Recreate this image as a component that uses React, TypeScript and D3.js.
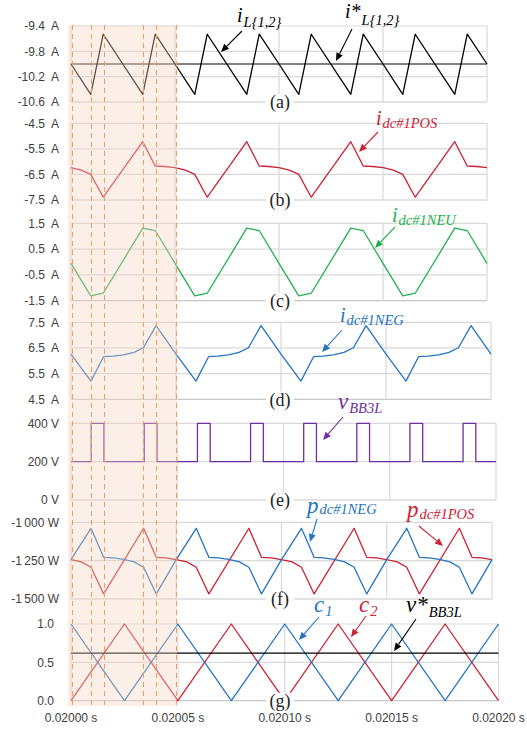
import React, { useEffect, useRef } from 'react';
import * as d3 from 'd3';

// time axis in microseconds after t = 0.02000 s
const tSwitch = [0, 9.5, 15.5, 34.5, 40.5, 50, 59.5, 65.5, 84.5, 90.5, 100, 109.5, 115.5, 134.5, 140.5, 150, 159.5, 165.5, 184.5, 190.5, 200];
const tPos = [0, 5, 9.5, 15.5, 34.5, 40.5, 45, 50, 55, 59.5, 65.5, 84.5, 90.5, 95, 100, 105, 109.5, 115.5, 134.5, 140.5, 145, 150, 155, 159.5, 165.5, 184.5, 190.5, 195, 200];
const tNeg = [0, 9.5, 15.5, 20, 25, 30, 34.5, 40.5, 50, 59.5, 65.5, 70, 75, 80, 84.5, 90.5, 100, 109.5, 115.5, 120, 125, 130, 134.5, 140.5, 150, 159.5, 165.5, 170, 175, 180, 184.5, 190.5, 200];
const tCarrier = [0, 25, 50, 75, 100, 125, 150, 175, 200];
const tSpan = [0, 200];

// (a) inductor current and its reference
const iL = [-10.0, -10.48, -9.53, -10.48, -9.53, -10.0, -10.48, -9.53, -10.48, -9.53, -10.0, -10.48, -9.53, -10.48, -9.53, -10.0, -10.48, -9.53, -10.48, -9.53, -10.0];
const iLRef = [-10.0, -10.0];
// (b) dc current, positive rail
const iPos = [-6.23, -6.33, -6.5, -7.39, -5.22, -6.17, -6.19, -6.23, -6.33, -6.5, -7.39, -5.22, -6.17, -6.19, -6.23, -6.33, -6.5, -7.39, -5.22, -6.17, -6.19, -6.23, -6.33, -6.5, -7.39, -5.22, -6.17, -6.19, -6.23];
// (c) dc current, neutral
const iNeu = [-0.05, -1.31, -1.21, 1.31, 1.22, -0.05, -1.31, -1.21, 1.31, 1.22, -0.05, -1.31, -1.21, 1.31, 1.22, -0.05, -1.31, -1.21, 1.31, 1.22, -0.05];
// (d) dc current, negative rail
const iNeg = [6.26, 5.21, 6.16, 6.18, 6.23, 6.33, 6.51, 7.37, 6.26, 5.21, 6.16, 6.18, 6.23, 6.33, 6.51, 7.37, 6.26, 5.21, 6.16, 6.18, 6.23, 6.33, 6.51, 7.37, 6.26, 5.21, 6.16, 6.18, 6.23, 6.33, 6.51, 7.37, 6.26];
// (e) leg voltage
const vBB3L = [200, 400, 200, 400, 200, 200, 400, 200, 400, 200, 200, 400, 200, 400, 200, 200, 400, 200, 400, 200, 200];
// (f) dc powers
const pNeg = [-1243, -1039, -1228, -1232, -1242, -1258, -1293, -1467, -1243, -1039, -1228, -1232, -1242, -1258, -1293, -1467, -1243, -1039, -1228, -1232, -1242, -1258, -1293, -1467, -1243, -1039, -1228, -1232, -1242, -1258, -1293, -1467, -1243];
const pPos = [-1243, -1258, -1293, -1467, -1039, -1228, -1232, -1243, -1258, -1293, -1467, -1039, -1228, -1232, -1243, -1258, -1293, -1467, -1039, -1228, -1232, -1243, -1258, -1293, -1467, -1039, -1228, -1232, -1243];
// (g) carriers and modulating signal
const c1 = [1, 0, 1, 0, 1, 0, 1, 0, 1];
const c2 = [0, 1, 0, 1, 0, 1, 0, 1, 0];
const vStar = [0.62, 0.62];

const xTicks = [0, 50, 100, 150, 200];
const xTickLabels = ['0.02000 s', '0.02005 s', '0.02010 s', '0.02015 s', '0.02020 s'];
const switchMarks = [0, 9.5, 15.5, 34.5, 40.5, 50];

const RED = '#cc2233';
const GREEN = '#22b04e';
const BLUE = '#2474c0';
const PURPLE = '#7030a0';

const panels = [
  { id: 'a', top: 26, bottom: 102, right: 487, domain: [-10.6, -9.4], ticks: [-10.6, -10.2, -9.8, -9.4], labels: ['-10.6  A', '-10.2  A', '-9.8  A', '-9.4  A'],
    series: [{ t: tSpan, v: iLRef, color: '#808080', w: 1.8 }, { t: tSwitch, v: iL, color: '#000000' }] },
  { id: 'b', top: 123.3, bottom: 200, right: 487, domain: [-7.5, -4.5], ticks: [-7.5, -6.5, -5.5, -4.5], labels: ['-7.5  A', '-6.5  A', '-5.5  A', '-4.5  A'],
    series: [{ t: tPos, v: iPos, color: RED }] },
  { id: 'c', top: 223.3, bottom: 300.7, right: 487, domain: [-1.5, 1.5], ticks: [-1.5, -0.5, 0.5, 1.5], labels: ['-1.5  A', '-0.5  A', '0.5  A', '1.5  A'],
    series: [{ t: tSwitch, v: iNeu, color: GREEN }] },
  { id: 'd', top: 322.3, bottom: 399.3, right: 491, domain: [4.5, 7.5], ticks: [4.5, 5.5, 6.5, 7.5], labels: ['4.5  A', '5.5  A', '6.5  A', '7.5  A'],
    series: [{ t: tNeg, v: iNeg, color: BLUE }] },
  { id: 'e', top: 423.3, bottom: 500, right: 496, domain: [0, 400], ticks: [0, 200, 400], labels: ['0 V', '200 V', '400 V'],
    series: [{ t: tSwitch, v: vBB3L, color: PURPLE, step: true }] },
  { id: 'f', top: 522.3, bottom: 599, right: 492, domain: [-1500, -1000], ticks: [-1500, -1250, -1000], labels: ['-1\u2009500 W', '-1\u2009250 W', '-1\u2009000 W'],
    series: [{ t: tPos, v: pPos, color: RED }, { t: tNeg, v: pNeg, color: BLUE }] },
  { id: 'g', top: 624, bottom: 700.7, right: 498.5, domain: [0, 1], ticks: [0, 0.5, 1], labels: ['0.0', '0.5', '1.0'], labelX: 54,
    series: [{ t: tCarrier, v: c2, color: RED }, { t: tCarrier, v: c1, color: BLUE }, { t: tSpan, v: vStar, color: '#000000' }] },
];

const notes = [
  { main: 'i', sub: 'L{1,2}', x: 237, y: 22, dy: 5, color: '#000000', arrow: [242, 31, 221, 52] },
  { main: 'i*', sub: 'L{1,2}', x: 345, y: 18, dy: 7, color: '#000000', arrow: [352, 29, 336, 61] },
  { main: 'i', sub: 'dc#1POS', x: 376, y: 125, dy: 3, color: RED, arrow: [378, 132, 359, 152] },
  { main: 'i', sub: 'dc#1NEU', x: 392, y: 222, dy: 3, color: GREEN, arrow: [395, 227, 375, 248] },
  { main: 'i', sub: 'dc#1NEG', x: 340, y: 322, dy: 3, color: BLUE, arrow: [342, 330, 322, 352] },
  { main: 'v', sub: 'BB3L', x: 338, y: 409, dy: 4, color: PURPLE, arrow: [343, 417, 323, 440] },
  { main: 'p', sub: 'dc#1NEG', x: 307, y: 513, dy: 1, color: BLUE, arrow: [317, 519, 310, 542] },
  { main: 'p', sub: 'dc#1POS', x: 407, y: 517, dy: 2, color: RED, arrow: [419, 526, 443, 546] },
  { main: 'c', sub: '1', x: 314, y: 612, dy: 4, color: BLUE, arrow: [319, 617, 299, 640] },
  { main: 'c', sub: '2', x: 359, y: 612, dy: 4, color: RED, arrow: [366, 616, 351, 637] },
  { main: 'v*', sub: 'BB3L', x: 406, y: 612, dy: 5, color: '#000000', arrow: [416, 619, 394, 651] },
];

const SANS = '"Liberation Sans", Arial, sans-serif';
const SERIF = '"Liberation Serif", "Times New Roman", serif';

export default function App() {
  const svgRef = useRef<SVGSVGElement>(null);

  useEffect(() => {
    if (!svgRef.current) return;
    const svg = d3.select(svgRef.current);
    svg.selectAll('*').remove();

    const left = 71;

    panels.forEach((p) => {
      const x = d3.scaleLinear().domain([0, 200]).range([left, p.right]);
      const y = d3.scaleLinear().domain(p.domain).range([p.bottom, p.top]);
      const g = svg.append('g');

      // grid
      g.selectAll('.hgrid')
        .data(p.ticks)
        .enter()
        .append('line')
        .attr('x1', left)
        .attr('x2', p.right)
        .attr('y1', (d) => y(d))
        .attr('y2', (d) => y(d))
        .attr('stroke', (_, i) => (i === 0 ? '#c8c8c8' : '#d9d9d9'))
        .attr('stroke-width', 1.2);

      g.selectAll('.vgrid')
        .data(xTicks)
        .enter()
        .append('line')
        .attr('x1', (d) => x(d))
        .attr('x2', (d) => x(d))
        .attr('y1', p.top)
        .attr('y2', p.bottom)
        .attr('stroke', '#d9d9d9')
        .attr('stroke-width', 1.2);

      // y tick labels
      g.selectAll('.ylab')
        .data(p.ticks)
        .enter()
        .append('text')
        .attr('x', p.labelX ?? 59)
        .attr('y', (d) => y(d))
        .attr('dy', '0.35em')
        .attr('text-anchor', 'end')
        .attr('font-family', SANS)
        .attr('font-size', 12)
        .attr('fill', '#404040')
        .style('white-space', 'pre')
        .text((_, i) => p.labels[i]);

      // traces
      p.series.forEach((s: any) => {
        const line = d3
          .line<number>()
          .x((_, i) => x(s.t[i]))
          .y((d) => y(d))
          .curve(s.step ? d3.curveStepAfter : d3.curveLinear);
        g.append('path')
          .datum(s.v)
          .attr('d', line)
          .attr('fill', 'none')
          .attr('stroke', s.color)
          .attr('stroke-width', s.w ?? 1.3)
          .attr('stroke-linejoin', 'round');
      });
    });

    // shaded first switching period and switching instants
    const xs = d3.scaleLinear().domain([0, 200]).range([left, 491]);
    svg
      .append('rect')
      .attr('x', 68)
      .attr('y', 25)
      .attr('width', xs(50) + 1 - 68)
      .attr('height', 681)
      .attr('fill', '#f4d4c3')
      .attr('opacity', 0.38);

    svg
      .selectAll('.sw')
      .data(switchMarks)
      .enter()
      .append('line')
      .attr('x1', (d) => Math.round(xs(d)) + 0.5 + (d === 0 ? 1 : 0))
      .attr('x2', (d) => Math.round(xs(d)) + 0.5 + (d === 0 ? 1 : 0))
      .attr('y1', 25)
      .attr('y2', 706)
      .attr('stroke', '#f39a5c')
      .attr('stroke-width', 1)
      .attr('stroke-dasharray', '5,4');

    // x tick labels under the last panel
    const last = panels[panels.length - 1];
    const xg = d3.scaleLinear().domain([0, 200]).range([left, last.right]);
    svg
      .selectAll('.xlab')
      .data(xTicks)
      .enter()
      .append('text')
      .attr('x', (d) => xg(d))
      .attr('y', 718)
      .attr('dy', '0.35em')
      .attr('text-anchor', 'middle')
      .attr('font-family', SANS)
      .attr('font-size', 12)
      .attr('fill', '#404040')
      .text((_, i) => xTickLabels[i]);

    // panel letters
    panels.forEach((p) => {
      svg.append('rect').attr('x', 266).attr('y', p.bottom - 8).attr('width', 28).attr('height', 16).attr('fill', '#fff');
      svg
        .append('text')
        .attr('x', 280)
        .attr('y', p.bottom)
        .attr('dy', '0.35em')
        .attr('text-anchor', 'middle')
        .attr('font-family', SERIF)
        .attr('font-size', 18)
        .attr('fill', '#222')
        .text(`(${p.id})`);
    });

    // annotations
    notes.forEach((n) => {
      const big = n.main.startsWith('i') ? 20 : 23;
      const t = svg
        .append('text')
        .attr('x', n.x)
        .attr('y', n.y)
        .attr('font-family', SERIF)
        .attr('font-style', 'italic')
        .attr('fill', n.color);
      t.append('tspan').attr('font-size', big).text(n.main);
      t.append('tspan').attr('font-size', 14.5).attr('dx', 1).attr('dy', n.dy).text(n.sub);

      const [x1, y1, x2, y2] = n.arrow;
      const ang = Math.atan2(y2 - y1, x2 - x1);
      const hl = 8;
      const hw = 3.5;
      const bx = x2 - hl * Math.cos(ang);
      const by = y2 - hl * Math.sin(ang);
      svg
        .append('line')
        .attr('x1', x1)
        .attr('y1', y1)
        .attr('x2', bx)
        .attr('y2', by)
        .attr('stroke', n.color)
        .attr('stroke-width', 1.1);
      const pts = [
        [x2, y2],
        [bx + hw * Math.sin(ang), by - hw * Math.cos(ang)],
        [bx - hw * Math.sin(ang), by + hw * Math.cos(ang)],
      ];
      svg
        .append('polygon')
        .attr('points', pts.map((q) => q.join(',')).join(' '))
        .attr('fill', n.color);
    });
  }, []);

  return (
    <svg
      ref={svgRef}
      width={527}
      height={729}
      style={{ position: 'absolute', left: 0, top: 0, background: '#fff' }}
    />
  );
}
